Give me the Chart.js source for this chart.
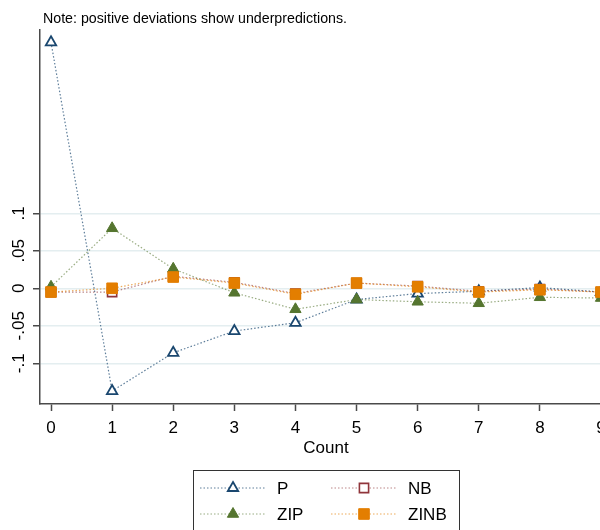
<!DOCTYPE html>
<html>
<head>
<meta charset="utf-8">
<script src="https://cdn.jsdelivr.net/npm/chart.js@4"></script>
<style>
  html, body { margin: 0; padding: 0; background: #fff; }
  #wrap { width: 600px; height: 530px; overflow: hidden; }
</style>
</head>
<body>
<div id="wrap"><canvas id="chart" width="640" height="530"></canvas></div>
<script>
// deviations of predicted from observed count probabilities
const counts = [0, 1, 2, 3, 4, 5, 6, 7, 8, 9];
const devP    = [0.328, -0.137, -0.086, -0.057, -0.046, -0.015, -0.007, -0.004, 0.001, -0.005];
const devNB   = [-0.005, -0.005, 0.016, 0.008, -0.007, 0.007, 0.003, -0.004, -0.001, -0.005];
const devZIP  = [0.002, 0.080, 0.026, -0.006, -0.028, -0.015, -0.018, -0.020, -0.012, -0.013];
const devZINB = [-0.005, 0.000, 0.015, 0.007, -0.008, 0.007, 0.002, -0.005, -0.002, -0.005];
const yTicks = [-0.1, -0.05, 0, 0.05, 0.1];
const yTickLabels = ['-.1', '-.05', '0', '.05', '.1'];

const FONT = '"Liberation Sans", Arial, sans-serif';
const axisCol = '#4a4a4a';

function pts(vals) {
  return counts.map((c, i) => ({ x: c, y: vals[i] }));
}

const series = [
  { label: 'P',    data: devP,    color: '#1a476f', line: 'rgba(26,71,111,0.7)',  style: 'triangle', fill: '#fff',    r: 6,   bw: 1.8, order: 3 },
  { label: 'NB',   data: devNB,   color: '#90353b', line: 'rgba(144,53,59,0.6)',  style: 'rect',     fill: '#fff',    r: 6.5, bw: 1.6, order: 2 },
  { label: 'ZIP',  data: devZIP,  color: '#55752f', line: 'rgba(85,117,47,0.6)',  style: 'triangle', fill: '#55752f', r: 6.5, bw: 1,   order: 1 },
  { label: 'ZINB', data: devZINB, color: '#e37e00', line: 'rgba(227,126,0,0.65)', style: 'rect',     fill: '#e37e00', r: 7.5, bw: 1,   order: 0 }
];

const extras = {
  id: 'extras',
  afterDraw(chart) {
    const ctx = chart.ctx;
    const ys = chart.scales.y;
    const xs = chart.scales.x;
    ctx.save();
    ctx.fillStyle = '#000';

    // note, squeezed a little like Stata's sans
    const note = 'Note: positive deviations show underpredictions.';
    ctx.font = '15px ' + FONT;
    ctx.textAlign = 'left';
    ctx.textBaseline = 'alphabetic';
    const w = ctx.measureText(note).width;
    ctx.save();
    ctx.translate(43, 23);
    ctx.scale(Math.min(1, 304 / w), 1);
    ctx.fillText(note, 0, 0);
    ctx.restore();

    // rotated y labels
    ctx.font = '17px ' + FONT;
    ctx.textAlign = 'center';
    ctx.textBaseline = 'middle';
    yTicks.forEach((v, i) => {
      const py = ys.getPixelForValue(v);
      ctx.save();
      ctx.translate(19, py);
      ctx.rotate(-Math.PI / 2);
      ctx.fillText(yTickLabels[i], 0, 0);
      ctx.restore();
    });

    // x title
    const midX = (xs.left + xs.right) / 2;
    ctx.fillText('Count', midX, 448);

    // legend
    const bx = 193, by = 470, bw = 266, bh = 80;
    ctx.strokeStyle = '#333';
    ctx.lineWidth = 1;
    ctx.strokeRect(bx + 0.5, by + 0.5, bw, bh);
    const cells = [
      { s: series[0], x0: 200, y: 488, tx: 277 },
      { s: series[1], x0: 331, y: 488, tx: 408 },
      { s: series[2], x0: 200, y: 514, tx: 277 },
      { s: series[3], x0: 331, y: 514, tx: 408 }
    ];
    cells.forEach(c => {
      ctx.save();
      ctx.strokeStyle = c.s.line;
      ctx.lineWidth = 1;
      ctx.setLineDash([1.5, 2]);
      ctx.beginPath();
      ctx.moveTo(c.x0, c.y);
      ctx.lineTo(c.x0 + 66, c.y);
      ctx.stroke();
      ctx.restore();
      ctx.fillStyle = c.s.fill;
      ctx.strokeStyle = c.s.color;
      ctx.lineWidth = c.s.bw;
      Chart.helpers.drawPoint(ctx, { pointStyle: c.s.style, radius: c.s.r, rotation: 0, borderWidth: c.s.bw }, c.x0 + 33, c.y);
      ctx.fillStyle = '#000';
      ctx.font = '17px ' + FONT;
      ctx.textAlign = 'left';
      ctx.textBaseline = 'middle';
      ctx.fillText(c.s.label, c.tx, c.y + 1);
    });
    ctx.restore();
  }
};

new Chart(document.getElementById('chart'), {
  type: 'line',
  data: {
    datasets: series.map(s => ({
      label: s.label,
      data: pts(s.data),
      order: s.order,
      borderColor: s.line,
      borderWidth: 1.2,
      borderDash: [1.5, 2],
      tension: 0,
      fill: false,
      pointStyle: s.style,
      pointRadius: s.r,
      pointBorderWidth: s.bw,
      pointBorderColor: s.color,
      pointBackgroundColor: s.fill,
      clip: false
    }))
  },
  options: {
    responsive: false,
    animation: false,
    events: [],
    layout: { padding: { left: 0, top: 30, right: 28, bottom: 0 } },
    plugins: {
      legend: { display: false },
      title: { display: false },
      tooltip: { enabled: false }
    },
    scales: {
      x: {
        type: 'linear',
        min: -0.18,
        max: 9.18,
        afterFit(scale) { scale.height = 126; },
        afterBuildTicks(scale) { scale.ticks = counts.map(v => ({ value: v })); },
        border: { display: true, color: axisCol, width: 1.5 },
        grid: { drawOnChartArea: false, drawTicks: true, tickLength: 7, tickColor: axisCol, tickWidth: 1.5 },
        ticks: {
          color: '#000',
          font: { size: 17, family: FONT },
          padding: 7,
          maxRotation: 0,
          autoSkip: false,
          callback: v => String(v)
        }
      },
      y: {
        type: 'linear',
        min: -0.1543,
        max: 0.3444,
        afterFit(scale) { scale.width = 40; },
        afterBuildTicks(scale) { scale.ticks = yTicks.map(v => ({ value: v })); },
        border: { display: true, color: axisCol, width: 1.5 },
        grid: { color: '#e4eef0', lineWidth: 1.5, drawTicks: true, tickLength: 7, tickColor: axisCol, tickWidth: 1.5 },
        ticks: { display: false }
      }
    }
  },
  plugins: [extras]
});
</script>
</body>
</html>
